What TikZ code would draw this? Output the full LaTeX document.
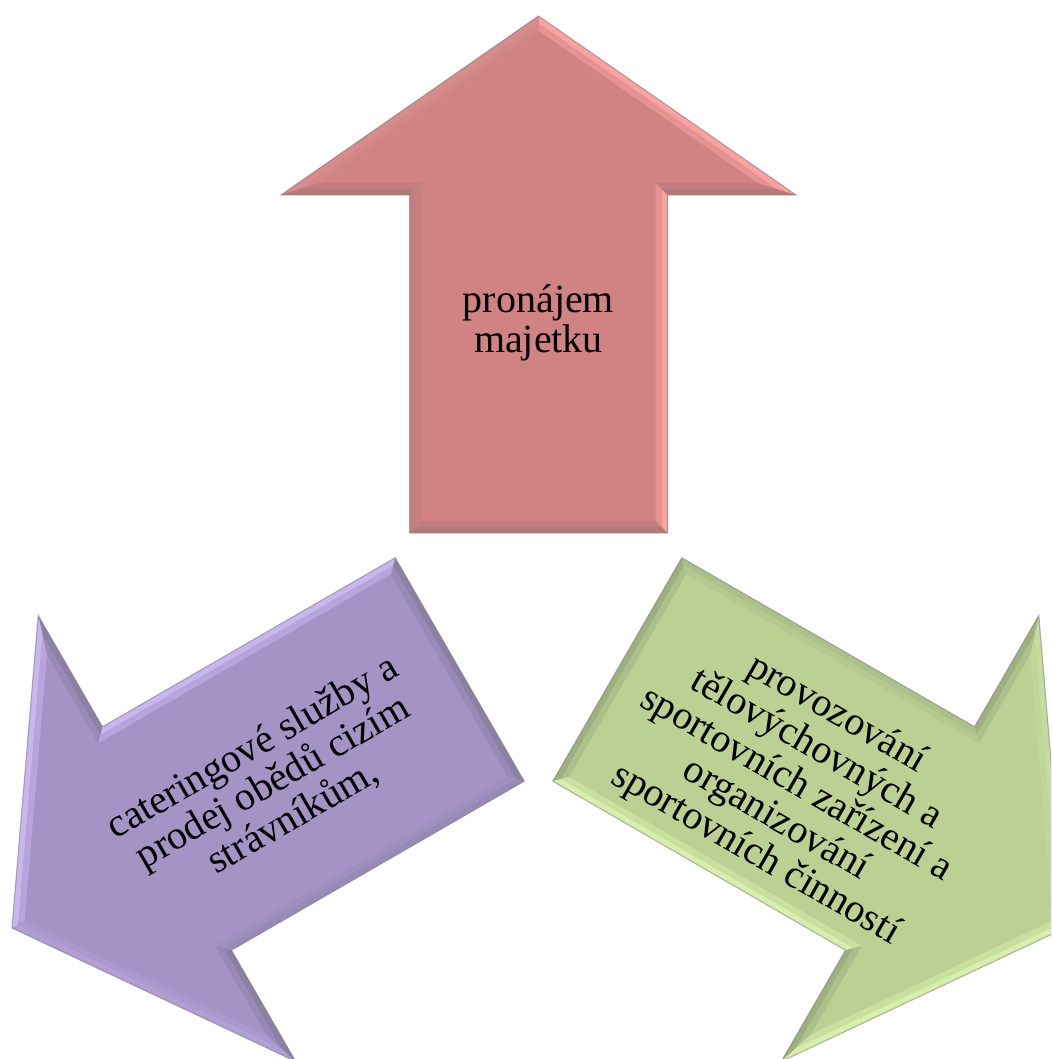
\documentclass[tikz,border=0pt]{standalone}
\usepackage{fontspec}
\setmainfont{Liberation Serif}
\definecolor{rBase}{RGB}{209,130,131}
\definecolor{rLight}{RGB}{250,162,162}
\definecolor{rDark}{RGB}{178,122,122}
\definecolor{rMidL}{RGB}{214,140,140}
\definecolor{rMidD}{RGB}{192,126,127}
\definecolor{pBase}{RGB}{165,147,198}
\definecolor{pLight}{RGB}{200,182,238}
\definecolor{pDark}{RGB}{140,128,165}
\definecolor{pMidL}{RGB}{176,158,212}
\definecolor{pMidD}{RGB}{152,138,182}
\definecolor{gBase}{RGB}{187,209,148}
\definecolor{gLight}{RGB}{215,238,172}
\definecolor{gDark}{RGB}{158,175,128}
\definecolor{gMidL}{RGB}{196,220,158}
\definecolor{gMidD}{RGB}{172,192,138}
\newcommand\setverts[2]{%
 \coordinate (#1a) at ({-129+#2},{91+#2});
 \coordinate (#1b) at ({129-#2},{91+#2});
 \coordinate (#1c) at ({129-#2},{429+#2});
 \coordinate (#1d) at ({257.5-3.19*#2},{429+#2});
 \coordinate (#1e) at (0,{608-1.2179*#2});
 \coordinate (#1f) at ({-257.5+3.19*#2},{429+#2});
 \coordinate (#1g) at ({-129+#2},{429+#2});
}
\newcommand\bevstrip[5]{\fill[#5] (#1#3)--(#1#4)--(#2#4)--(#2#3)--cycle;}
\newcommand\bevarrow[2]{%
 \begin{scope}[shift={(538.5,435)},rotate=#1]
  \setverts{P}{0}\setverts{Q}{6}\setverts{R}{12}
  \fill[#2Base] (Pa)--(Pb)--(Pc)--(Pd)--(Pe)--(Pf)--(Pg)--cycle;
  \bevstrip{P}{Q}{a}{b}{#2Dark}
  \bevstrip{P}{Q}{b}{c}{#2Light}
  \bevstrip{P}{Q}{c}{d}{#2Dark}
  \bevstrip{P}{Q}{d}{e}{#2Light}
  \bevstrip{P}{Q}{e}{f}{#2MidL}
  \bevstrip{P}{Q}{f}{g}{#2Dark}
  \bevstrip{P}{Q}{g}{a}{#2MidD}
  \bevstrip{Q}{R}{a}{b}{#2Dark!50!#2Base}
  \bevstrip{Q}{R}{b}{c}{#2Light!50!#2Base}
  \bevstrip{Q}{R}{c}{d}{#2Dark!50!#2Base}
  \bevstrip{Q}{R}{d}{e}{#2Light!50!#2Base}
  \bevstrip{Q}{R}{e}{f}{#2MidL!50!#2Base}
  \bevstrip{Q}{R}{f}{g}{#2Dark!50!#2Base}
  \bevstrip{Q}{R}{g}{a}{#2MidD!50!#2Base}
  \draw[black!50, opacity=0.5, line width=1.2pt, line join=miter]
   (Pa)--(Pb)--(Pc)--(Pd)--(Pe)--(Pf)--(Pg)--cycle;
 \end{scope}}
\begin{document}
\begin{tikzpicture}[x=1pt,y=1pt,
  lbl/.style={align=center, font=\fontsize{40}{40.5}\selectfont, text=black, inner sep=0pt}]
\useasboundingbox (0,0) rectangle (1051,1059);
\fill[white] (0,0) rectangle (1051,1059);
\clip (0,0) rectangle (1051,1059);
\bevarrow{0}{r}
\bevarrow{120}{p}
\bevarrow{-120}{g}
\node[lbl] (t1) at (538.5,736) {pronájem\\majetku};
\node[lbl, rotate=30] (t2) at (273,276) {cateringové služby a\\prodej obědů cizím\\strávníkům,};
\node[lbl, rotate=-30] (t3) at (796,274) {provozování\\tělovýchovných a\\sportovních zařízení a\\organizování\\sportovních činností};
\end{tikzpicture}
\end{document}
